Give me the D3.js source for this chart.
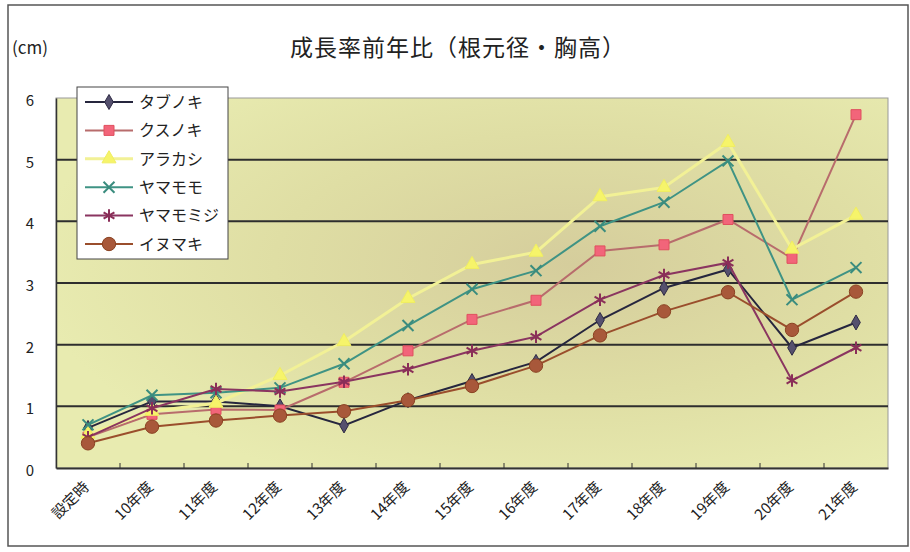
<!DOCTYPE html>
<html>
<head>
<meta charset="utf-8">
<script src="https://cdn.jsdelivr.net/npm/d3@7"></script>
<style>
  body { margin: 0; background: #fff; }
  text { font-family: "Noto Sans CJK JP", "Noto Sans", sans-serif; fill: #222; }
</style>
</head>
<body>
<script>
// categories and series
const categories = ['設定時', '10年度', '11年度', '12年度', '13年度', '14年度', '15年度', '16年度', '17年度', '18年度', '19年度', '20年度', '21年度'];
const seriesNames = ['タブノキ', 'クスノキ', 'アラカシ', 'ヤマモモ', 'ヤマモミジ', 'イヌマキ'];
const tabunoki = [0.65, 1.08, 1.08, 1.0, 0.69, 1.1, 1.41, 1.72, 2.4, 2.92, 3.22, 1.95, 2.36];
const kusunoki = [0.5, 0.87, 0.95, 0.94, 1.39, 1.9, 2.41, 2.72, 3.52, 3.62, 4.03, 3.4, 5.73];
const arakashi = [0.55, 0.92, 1.05, 1.5, 2.05, 2.75, 3.3, 3.5, 4.4, 4.55, 5.28, 3.55, 4.1];
const yamamomo = [0.7, 1.18, 1.22, 1.3, 1.69, 2.31, 2.9, 3.2, 3.92, 4.31, 4.98, 2.73, 3.25];
const yamamomiji = [0.5, 0.97, 1.28, 1.24, 1.4, 1.6, 1.9, 2.13, 2.73, 3.13, 3.33, 1.42, 1.95];
const inumaki = [0.4, 0.67, 0.77, 0.85, 0.92, 1.1, 1.33, 1.66, 2.15, 2.54, 2.85, 2.24, 2.86];
const yTicks = [0, 1, 2, 3, 4, 5, 6];

const seriesValues = [tabunoki, kusunoki, arakashi, yamamomo, yamamomiji, inumaki];

const styles = [
	{ line: '#26263e', fill: '#55506e', stroke: '#2e2a44', symbol: d3.symbolDiamond, size: 65 },
	{ line: '#b86c6c', fill: '#f2657a', stroke: '#e0505f', symbol: d3.symbolSquare, size: 100 },
	{ line: '#f2f196', fill: '#f6f46a', stroke: '#f0ee60', symbol: d3.symbolTriangle, size: 85 },
	{ line: '#3f9384', fill: 'none', stroke: '#3a8c7e', symbol: d3.symbolX, size: 80 },
	{ line: '#8a3560', fill: 'none', stroke: '#8a2e58', symbol: d3.symbolAsterisk, size: 110 },
	{ line: '#9a4e2c', fill: '#a8583a', stroke: '#8a4222', symbol: d3.symbolCircle, size: 140 },
];

const W = 910, H = 552;
const plot = { left: 56, right: 888, top: 98, bottom: 468 };

const svg = d3.select('body').append('svg')
	.attr('width', W)
	.attr('height', H);

const defs = svg.append('defs');
const grad = defs.append('radialGradient')
	.attr('id', 'bg')
	.attr('cx', '62%').attr('cy', '45%').attr('r', '65%');
grad.append('stop').attr('offset', '0%').attr('stop-color', '#d5cd9c');
grad.append('stop').attr('offset', '55%').attr('stop-color', '#dfdea4');
grad.append('stop').attr('offset', '100%').attr('stop-color', '#e8ebb0');

// outer chart frame
svg.append('rect')
	.attr('x', 8).attr('y', 5)
	.attr('width', 900).attr('height', 541)
	.attr('fill', '#fff')
	.attr('stroke', '#555')
	.attr('stroke-width', 1.5);

const x = d3.scaleBand()
	.domain(categories)
	.range([plot.left, plot.right]);

const y = d3.scaleLinear()
	.domain([0, 6])
	.range([plot.bottom, plot.top]);

// plot area
svg.append('rect')
	.attr('x', plot.left).attr('y', plot.top)
	.attr('width', plot.right - plot.left)
	.attr('height', plot.bottom - plot.top)
	.attr('fill', 'url(#bg)')
	.attr('stroke', '#999')
	.attr('stroke-width', 1);

// gridlines
svg.append('g')
	.selectAll('line')
	.data(yTicks.filter(d => d > 0 && d < 6))
	.enter()
	.append('line')
	.attr('x1', plot.left).attr('x2', plot.right)
	.attr('y1', d => y(d)).attr('y2', d => y(d))
	.attr('stroke', '#2e2e2e')
	.attr('stroke-width', 2);

// y axis
const yAxis = d3.axisLeft(y)
	.tickValues(yTicks)
	.tickFormat(d3.format('d'))
	.tickSize(0)
	.tickPadding(20);

const yg = svg.append('g')
	.attr('transform', `translate(${plot.left},0)`)
	.call(yAxis);
yg.select('.domain').attr('stroke', '#333').attr('stroke-width', 1.5);
yg.selectAll('text')
	.attr('font-size', 15)
	.attr('text-anchor', 'middle')
	.attr('x', -26)
	.attr('dy', '0.5em');

// x axis: boundary ticks pointing into the plot, labels at centres
const xg = svg.append('g')
	.attr('transform', `translate(0,${plot.bottom})`)
	.call(d3.axisBottom(x).tickSize(0).tickFormat(''));
xg.select('.domain').attr('stroke', '#333').attr('stroke-width', 2);

svg.append('g')
	.selectAll('line')
	.data(categories.slice(1))
	.enter()
	.append('line')
	.attr('x1', d => x(d)).attr('x2', d => x(d))
	.attr('y1', plot.bottom).attr('y2', plot.bottom - 5)
	.attr('stroke', '#333')
	.attr('stroke-width', 1);

svg.append('g')
	.selectAll('text')
	.data(categories)
	.enter()
	.append('text')
	.attr('transform', d => `translate(${x(d) + x.bandwidth() / 2 + 2},${plot.bottom + 20}) rotate(-45)`)
	.attr('text-anchor', 'end')
	.attr('font-size', 15)
	.text(d => d);

// series
const line = d3.line()
	.x((d, i) => x(categories[i]) + x.bandwidth() / 2)
	.y(d => y(d));

seriesValues.forEach((vals, s) => {
	const st = styles[s];
	const g = svg.append('g').attr('class', 'series');
	g.append('path')
		.datum(vals)
		.attr('d', line)
		.attr('fill', 'none')
		.attr('stroke', st.line)
		.attr('stroke-width', s === 2 ? 3 : 2);
	g.selectAll('path.mark')
		.data(vals)
		.enter()
		.append('path')
		.attr('class', 'mark')
		.attr('transform', (d, i) => `translate(${x(categories[i]) + x.bandwidth() / 2},${y(d)})`)
		.attr('d', d3.symbol().type(st.symbol).size(st.size))
		.attr('fill', st.fill)
		.attr('stroke', st.stroke)
		.attr('stroke-width', st.fill === 'none' ? 2 : 1);
});

// legend
const legend = svg.append('g').attr('transform', 'translate(77,87)');
legend.append('rect')
	.attr('width', 151).attr('height', 172)
	.attr('fill', '#fff')
	.attr('stroke', '#444')
	.attr('stroke-width', 1);

const item = legend.selectAll('g.item')
	.data(seriesNames)
	.enter()
	.append('g')
	.attr('class', 'item')
	.attr('transform', (d, i) => `translate(0,${15 + i * 28.4})`);

item.append('line')
	.attr('x1', 8).attr('x2', 56)
	.attr('stroke', (d, i) => styles[i].line)
	.attr('stroke-width', (d, i) => i === 2 ? 3 : 2);

item.append('path')
	.attr('transform', 'translate(32,0)')
	.attr('d', (d, i) => d3.symbol().type(styles[i].symbol).size(styles[i].size)())
	.attr('fill', (d, i) => styles[i].fill)
	.attr('stroke', (d, i) => styles[i].stroke)
	.attr('stroke-width', (d, i) => styles[i].fill === 'none' ? 2 : 1);

item.append('text')
	.attr('x', 62)
	.attr('dy', '0.36em')
	.attr('font-size', 16)
	.text(d => d);

// titles
svg.append('text')
	.attr('x', 458).attr('y', 48)
	.attr('text-anchor', 'middle')
	.attr('dy', '0.36em')
	.attr('font-size', 23)
	.attr('letter-spacing', 1)
	.text('成長率前年比（根元径・胸高）');

svg.append('text')
	.attr('x', 12).attr('y', 48)
	.attr('dy', '0.36em')
	.attr('font-size', 17)
	.text('(cm)');
</script>
</body>
</html>
